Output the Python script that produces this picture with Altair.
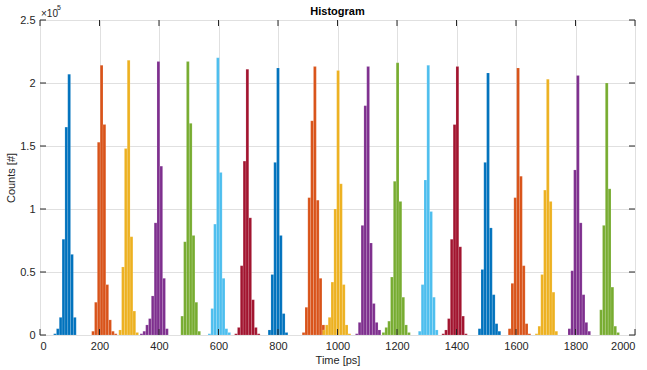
import altair as alt
import pandas as pd

# Peak positions (ps) of each histogram group
peaks = [98, 207, 298, 398, 497, 598, 697, 800, 924, 1002,
         1103, 1202, 1305, 1403, 1506, 1607, 1707, 1808, 1905]

# Bin counts per group (units of 1e5), consecutive bins left to right
counts = [
    [0.01, 0.05, 0.14, 0.76, 1.65, 2.07, 0.64, 0.14],
    [0.03, 0.26, 1.53, 2.14, 1.67, 0.40, 0.12, 0.03, 0.01],
    [0.04, 0.54, 1.48, 2.18, 0.78, 0.19, 0.02],
    [0.01, 0.03, 0.08, 0.13, 0.31, 0.89, 2.17, 1.34, 0.45, 0.05],
    [0.15, 0.74, 2.17, 1.68, 0.79, 0.26, 0.03],
    [0.01, 0.21, 0.88, 2.20, 1.29, 0.45, 0.05, 0.02],
    [0.01, 0.06, 0.55, 1.38, 2.11, 0.93, 0.28, 0.06, 0.01],
    [0.04, 0.48, 1.37, 2.12, 0.79, 0.17, 0.02],
    [0.02, 0.22, 1.09, 1.70, 2.13, 1.07, 0.45, 0.08],
    [0.04, 0.08, 0.14, 0.42, 1.00, 2.10, 1.20, 0.40, 0.08, 0.01],
    [0.01, 0.10, 0.87, 1.82, 2.13, 0.73, 0.25, 0.10, 0.04],
    [0.02, 0.06, 0.11, 0.46, 1.22, 2.16, 1.06, 0.30, 0.08, 0.02],
    [0.03, 0.40, 1.23, 2.14, 0.98, 0.30, 0.04],
    [0.01, 0.04, 0.13, 0.76, 1.67, 2.13, 0.70, 0.15, 0.01],
    [0.05, 0.52, 1.37, 2.08, 0.85, 0.32, 0.09, 0.03],
    [0.05, 0.41, 1.09, 2.12, 1.26, 0.55, 0.09, 0.01],
    [0.01, 0.07, 0.48, 1.15, 2.03, 1.06, 0.34, 0.03],
    [0.05, 0.51, 1.31, 2.06, 0.89, 0.32, 0.10, 0.03],
    [0.20, 0.87, 2.00, 1.16, 0.38, 0.07, 0.02],
]

bin_width = 9.5
palette = ["#0072BD", "#D95319", "#EDB120", "#7E2F8E", "#77AC30", "#4DBEEE", "#A2142F"]

x_ticks = [0, 200, 400, 600, 800, 1000, 1200, 1400, 1600, 1800, 2000]
y_ticks = [0, 50000, 100000, 150000, 200000, 250000]

rows = []
for g, (pk, cs) in enumerate(zip(peaks, counts)):
    k = cs.index(max(cs))
    for i, c in enumerate(cs):
        start = pk - bin_width / 2 + (i - k) * bin_width
        rows.append({"x0": start, "x1": start + bin_width, "count": c * 1e5,
                     "base": 0.0, "group": str(g)})
bars_df = pd.DataFrame(rows)

W, H = 595, 315
txt = "#262626"
font = "Liberation Sans"

xscale = alt.Scale(domain=[0, 2000], nice=False)
yscale = alt.Scale(domain=[0, 250000], nice=False)

bars = alt.Chart(bars_df).mark_rect(strokeWidth=0.4, stroke="#ffffff", strokeOpacity=0.35).encode(
    x=alt.X("x0:Q", scale=xscale,
            axis=alt.Axis(values=x_ticks, title="Time [ps]", grid=True, gridColor="#E0E0E0",
                          ticks=False, domain=False, labelPadding=5, titlePadding=3, format="d",
                          labelFontSize=11, titleFontSize=11, labelColor=txt, titleColor=txt,
                          titleFontWeight="normal", labelFont=font, titleFont=font)),
    x2="x1:Q",
    y=alt.Y("count:Q", scale=yscale,
            axis=alt.Axis(values=y_ticks, title="Counts [#]", grid=True, gridColor="#E0E0E0",
                          ticks=False, domain=False, labelPadding=5, titlePadding=3,
                          labelExpr="toString(datum.value/100000)",
                          labelFontSize=11, titleFontSize=11, labelColor=txt, titleColor=txt,
                          titleFontWeight="normal", labelFont=font, titleFont=font)),
    y2="base:Q",
    color=alt.Color("group:N", scale=alt.Scale(domain=[str(i) for i in range(len(peaks))],
                                               range=[palette[i % 7] for i in range(len(peaks))]),
                    legend=None),
)

xt = pd.DataFrame({"t": x_ticks})
yt = pd.DataFrame({"v": y_ticks})

xb = alt.Chart(xt).mark_rule(color=txt, strokeWidth=1).encode(
    x=alt.X("t:Q", scale=xscale), y=alt.value(H), y2=alt.value(H - 6))
xtop = alt.Chart(xt).mark_rule(color=txt, strokeWidth=1).encode(
    x=alt.X("t:Q", scale=xscale), y=alt.value(0), y2=alt.value(6))
yl = alt.Chart(yt).mark_rule(color=txt, strokeWidth=1).encode(
    y=alt.Y("v:Q", scale=yscale), x=alt.value(0), x2=alt.value(6))
yr = alt.Chart(yt).mark_rule(color=txt, strokeWidth=1).encode(
    y=alt.Y("v:Q", scale=yscale), x=alt.value(W), x2=alt.value(W - 6))

exp_base = alt.Chart(pd.DataFrame({"s": ["×10"]})).mark_text(
    align="left", baseline="middle", fontSize=10, font=font, color=txt).encode(
    text="s:N", x=alt.value(1), y=alt.value(-6))
exp_pow = alt.Chart(pd.DataFrame({"s": ["5"]})).mark_text(
    align="left", baseline="middle", fontSize=7, font=font, color=txt).encode(
    text="s:N", x=alt.value(17), y=alt.value(-12))
title = alt.Chart(pd.DataFrame({"s": ["Histogram"]})).mark_text(
    align="center", baseline="middle", fontSize=11, font=font, fontWeight="bold",
    color="#000000").encode(text="s:N", x=alt.value(W / 2), y=alt.value(-8))

chart = alt.layer(bars, xb, xtop, yl, yr, exp_base, exp_pow, title).properties(
    width=W, height=H,
    padding={"left": 40, "top": 20, "right": 12, "bottom": 35},
    autosize="none",
).configure_view(stroke=txt, strokeWidth=1).configure(background="white")

chart.save("out.html", embed_options={"renderer": "svg", "actions": False})
